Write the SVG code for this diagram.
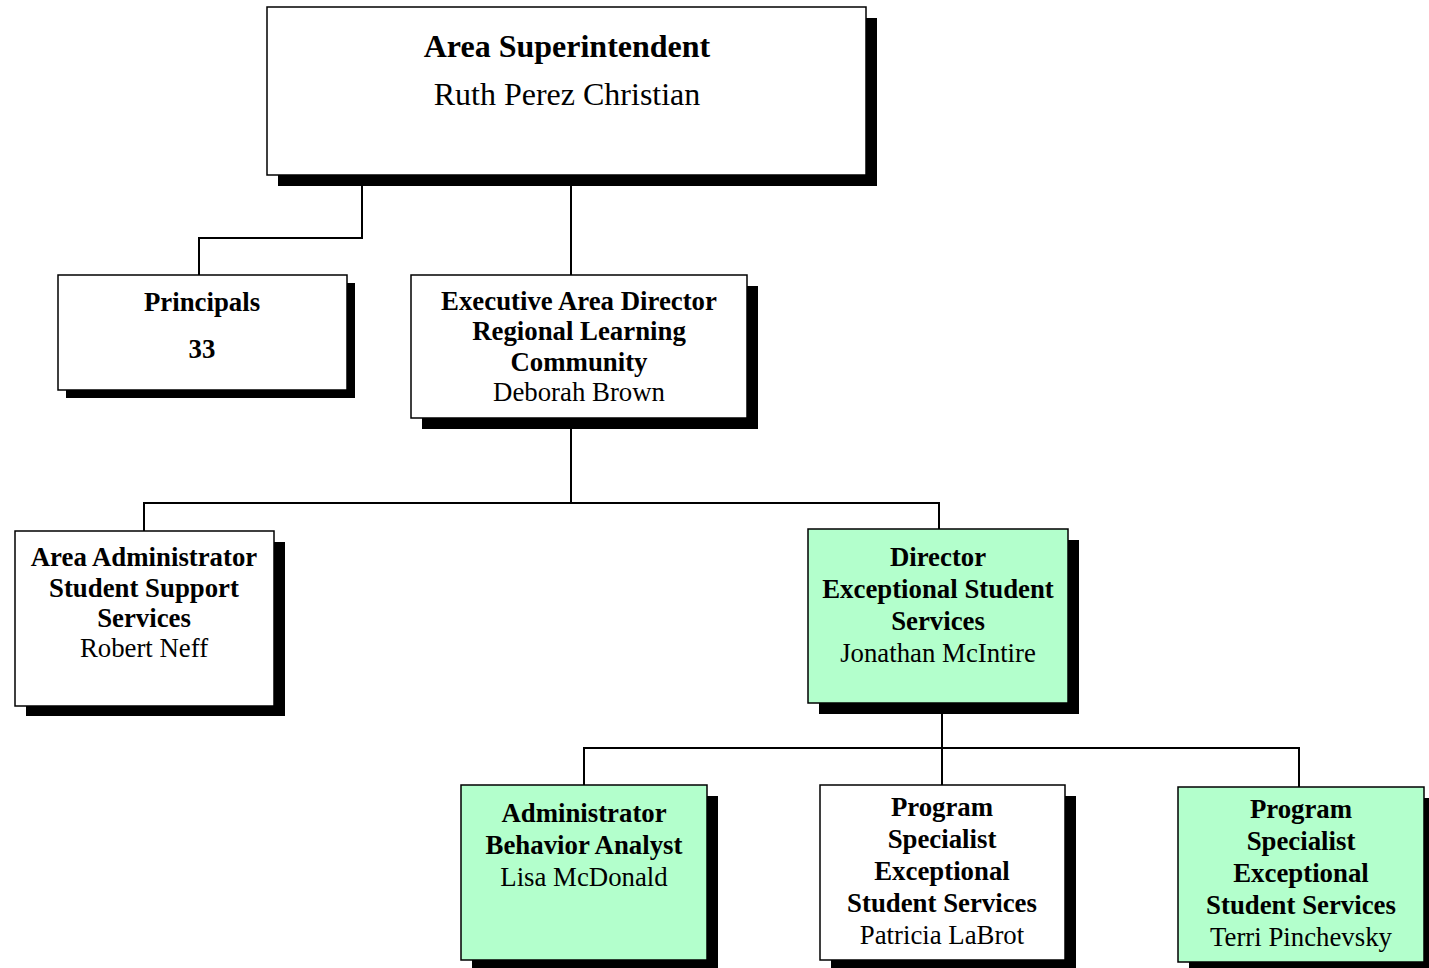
<svg xmlns="http://www.w3.org/2000/svg" width="1429" height="968" viewBox="0 0 1429 968">
<style>
.sh{fill:#000}
.bx{fill:#fff;stroke:#000;stroke-width:1.5}
.gr{fill:#b3ffcc;stroke:#000;stroke-width:1.5}
text{font-family:"Liberation Serif","Times New Roman",serif;text-anchor:middle;fill:#000}
.b{font-weight:bold}
.t{font-size:32px}
.m{font-size:26.8px}
.c{fill:none;stroke:#000;stroke-width:2}
</style>
<rect width="1429" height="968" fill="#fff"/>
<g id="connectors">
<path class="c" d="M362,175 V238 H199 V275"/>
<path class="c" d="M571,175 V275"/>
<path class="c" d="M571,418 V503"/>
<path class="c" d="M144,531 V503 H939 V529"/>
<path class="c" d="M942,703 V785"/>
<path class="c" d="M584,785 V748 H1299 V787"/>
</g>
<g id="superintendent">
<rect class="sh" x="278" y="18" width="599" height="168"/>
<rect class="bx" x="267" y="7" width="599" height="168"/>
<text class="t b" x="567" y="57">Area Superintendent</text>
<text class="t" x="567" y="105">Ruth Perez Christian</text>
</g>
<g id="principals">
<rect class="sh" x="66" y="283" width="289" height="115"/>
<rect class="bx" x="58" y="275" width="289" height="115"/>
<text class="m b" x="202" y="311">Principals</text>
<text class="m b" x="202" y="358">33</text>
</g>
<g id="executive">
<rect class="sh" x="422" y="286" width="336" height="143"/>
<rect class="bx" x="411" y="275" width="336" height="143"/>
<text class="m b" x="579" y="310">Executive Area Director</text>
<text class="m b" x="579" y="340">Regional Learning</text>
<text class="m b" x="579" y="371">Community</text>
<text class="m" x="579" y="401">Deborah Brown</text>
</g>
<g id="area-admin">
<rect class="sh" x="26" y="542" width="259" height="174"/>
<rect class="bx" x="15" y="531" width="259" height="175"/>
<text class="m b" x="144" y="566">Area Administrator</text>
<text class="m b" x="144" y="597">Student Support</text>
<text class="m b" x="144" y="627">Services</text>
<text class="m" x="144" y="657">Robert Neff</text>
</g>
<g id="director">
<rect class="sh" x="819" y="540" width="260" height="174"/>
<rect class="gr" x="808" y="529" width="260" height="174"/>
<text class="m b" x="938" y="566">Director</text>
<text class="m b" x="938" y="598">Exceptional Student</text>
<text class="m b" x="938" y="630">Services</text>
<text class="m" x="938" y="662">Jonathan McIntire</text>
</g>
<g id="behavior-analyst">
<rect class="sh" x="472" y="796" width="246" height="175"/>
<rect class="gr" x="461" y="785" width="246" height="175"/>
<text class="m b" x="584" y="822">Administrator</text>
<text class="m b" x="584" y="854">Behavior Analyst</text>
<text class="m" x="584" y="886">Lisa McDonald</text>
</g>
<g id="program-specialist-1">
<rect class="sh" x="831" y="796" width="245" height="175"/>
<rect class="bx" x="820" y="785" width="245" height="175"/>
<text class="m b" x="942" y="816">Program</text>
<text class="m b" x="942" y="848">Specialist</text>
<text class="m b" x="942" y="880">Exceptional</text>
<text class="m b" x="942" y="912">Student Services</text>
<text class="m" x="942" y="944">Patricia LaBrot</text>
</g>
<g id="program-specialist-2">
<rect class="sh" x="1189" y="798" width="246" height="175"/>
<rect class="gr" x="1178" y="787" width="246" height="175"/>
<text class="m b" x="1301" y="818">Program</text>
<text class="m b" x="1301" y="850">Specialist</text>
<text class="m b" x="1301" y="882">Exceptional</text>
<text class="m b" x="1301" y="914">Student Services</text>
<text class="m" x="1301" y="946">Terri Pinchevsky</text>
</g>
</svg>
